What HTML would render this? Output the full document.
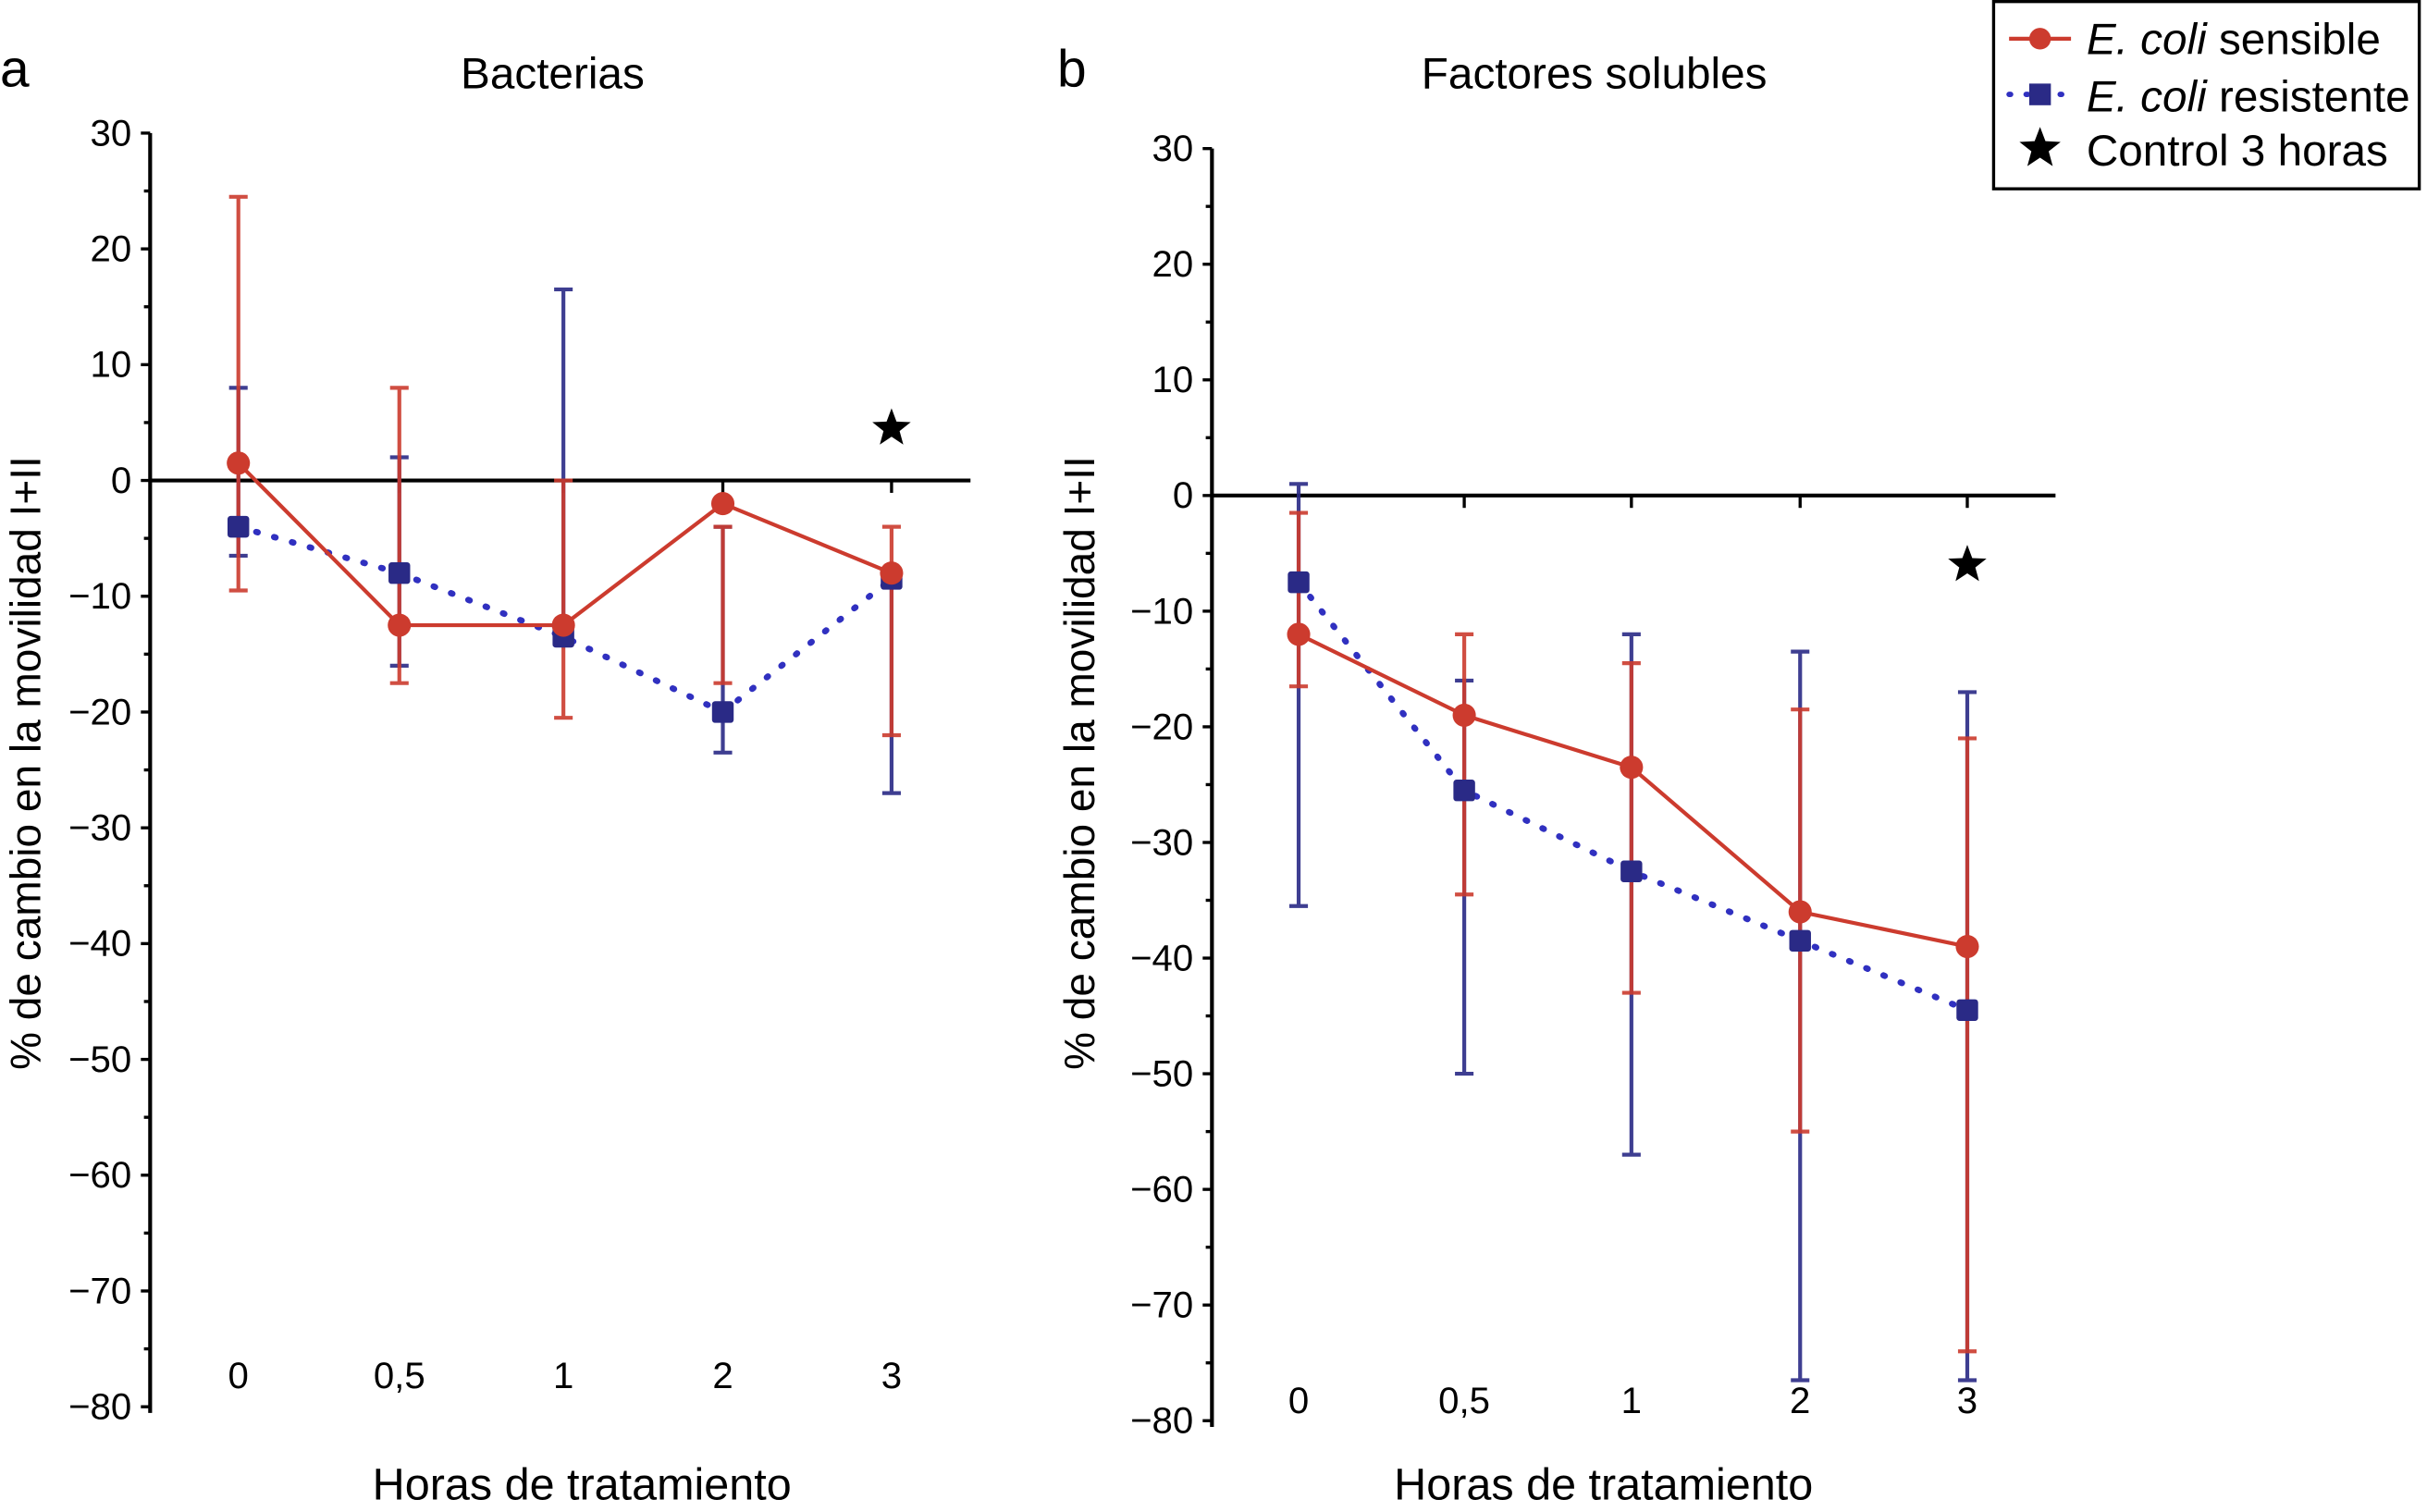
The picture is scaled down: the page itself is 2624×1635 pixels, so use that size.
<!DOCTYPE html>
<html><head><meta charset="utf-8"><style>
html,body{margin:0;padding:0;background:#fff}
svg{display:block}
text{font-family:"Liberation Sans",sans-serif;fill:#000}
</style></head><body>
<svg id="c" width="2624" height="1635" viewBox="0 0 1568 977" xmlns="http://www.w3.org/2000/svg"></svg>
<script>
const categories = ["0","0,5","1","2","3"];
const yTicks = [30,20,10,0,-10,-20,-30,-40,-50,-60,-70,-80];
const aRedVals = [1.5,-12.5,-12.5,-2,-8];
const aRedHi = [24.5,8,0,-4,-4];
const aRedLo = [-9.5,-17.5,-20.5,-17.5,-22];
const aBlueVals = [-4,-8,-13.5,-20,-8.5];
const aBlueHi = [8,2,16.5,-4,-8.5];
const aBlueLo = [-6.5,-16,-13.5,-23.5,-27];
const aStar = 4.5;
const bRedVals = [-12,-19,-23.5,-36,-39];
const bRedHi = [-1.5,-12,-14.5,-18.5,-21];
const bRedLo = [-16.5,-34.5,-43,-55,-74];
const bBlueVals = [-7.5,-25.5,-32.5,-38.5,-44.5];
const bBlueHi = [1,-16,-12,-13.5,-17];
const bBlueLo = [-35.5,-50,-57,-76.5,-76.5];
const bStar = -6;

const NS="http://www.w3.org/2000/svg", svg=document.getElementById('c');
const RED="#cc3b2e", BLUE="#2a2a86";
function mk(tag,attrs,parent,txt){const e=document.createElementNS(NS,tag);for(const k in attrs)e.setAttribute(k,attrs[k]);if(txt!==undefined)e.textContent=txt;(parent||svg).appendChild(e);return e;}
function star(g,cx,cy,r){let p=[];for(let i=0;i<10;i++){const rr=i%2?r*0.42:r;const a=-Math.PI/2+i*Math.PI/5;p.push((cx+rr*Math.cos(a)).toFixed(1)+","+(cy+rr*Math.sin(a)).toFixed(1));}return mk('polygon',{points:p.join(' '),fill:'#000'},g);}

function panel(o){
  const g=mk('g',{});
  
  
  const y=v=>o.y30+(30-v)*(o.y80-o.y30)/110;
  const x=i=>o.xs[i];
  const ax=mk('line',{x1:o.ax,y1:o.y30,x2:o.ax,y2:o.y80+4,stroke:'#000','stroke-width':2.5},g);
  
  for(let v=30;v>=-80;v-=5){mk('line',{x1:o.ax-(v%10===0?6:4),y1:y(v),x2:o.ax,y2:y(v),stroke:'#000','stroke-width':2},g);}
  yTicks.forEach(v=>{const t=mk('text',{x:o.ax-12,y:y(v)+8,'text-anchor':'end','font-size':24},g,v<0?'\u2212'+(-v):String(v));
    });
  const z=mk('line',{x1:o.ax,y1:y(0),x2:o.axEnd,y2:y(0),stroke:'#000','stroke-width':2.5},g);
  
  categories.forEach((c,i)=>{if(i>0)mk('line',{x1:x(i),y1:y(0),x2:x(i),y2:y(0)+8,stroke:'#000','stroke-width':2},g);
    const t=mk('text',{x:x(i),y:o.xly,'text-anchor':'middle','font-size':24},g,c);
    });
  function errs(hi,lo,col,nm){hi.forEach((h,i)=>{const e=mk('g',{stroke:col,'stroke-width':2.5,opacity:0.9},g);
    
    mk('line',{x1:x(i),y1:y(h),x2:x(i),y2:y(lo[i])},e);
    mk('line',{x1:x(i)-6,y1:y(h),x2:x(i)+6,y2:y(h)},e);
    mk('line',{x1:x(i)-6,y1:y(lo[i]),x2:x(i)+6,y2:y(lo[i])},e);});}
  errs(o.bh,o.bl,BLUE,'blue-error-bar');
  errs(o.rh,o.rl,RED,'red-error-bar');
  const bl=mk('polyline',{points:o.bv.map((v,i)=>x(i)+','+y(v)).join(' '),fill:'none',stroke:'#3030c0','stroke-width':4,'stroke-dasharray':'1 11','stroke-linecap':'round'},g);
  
  o.bv.forEach((v,i)=>{const r=mk('rect',{x:x(i)-7,y:y(v)-7,width:14,height:14,rx:2,fill:BLUE},g);
    });
  const rl=mk('polyline',{points:o.rv.map((v,i)=>x(i)+','+y(v)).join(' '),fill:'none',stroke:RED,'stroke-width':2.5},g);
  
  o.rv.forEach((v,i)=>{const c=mk('circle',{cx:x(i),cy:y(v),r:7.5,fill:RED},g);
    });
  const s=star(g,x(4),y(o.star),13);
  
  const t1=mk('text',{x:o.tx,y:57,'text-anchor':'middle','font-size':28.5},g,o.title);
  
  const t2=mk('text',{x:o.lx,y:56,'font-size':34},g,o.letter);
  
  const t3=mk('text',{x:o.xtx,y:969,'text-anchor':'middle','font-size':29},g,'Horas de tratamiento');
  
  const t4=mk('text',{x:0,y:0,'text-anchor':'middle','font-size':27.5,transform:`translate(${o.ytx},493) rotate(-90)`},g,'% de cambio en la movilidad I+II');
  
}
panel({name:'panel-a',ax:97,axEnd:627,y30:86,y80:909,xs:[154,258,364,467,576],xly:897,
  rv:aRedVals,rh:aRedHi,rl:aRedLo,bv:aBlueVals,bh:aBlueHi,bl:aBlueLo,star:aStar,
  title:'Bacterias',tx:357,letter:'a',lx:0,xtx:376,ytx:26});
panel({name:'panel-b',ax:783,axEnd:1328,y30:96,y80:918,xs:[839,946,1054,1163,1271],xly:913,
  rv:bRedVals,rh:bRedHi,rl:bRedLo,bv:bBlueVals,bh:bBlueHi,bl:bBlueLo,star:bStar,
  title:'Factores solubles',tx:1030,letter:'b',lx:683,xtx:1036,ytx:707});
const lg=mk('g',{});


mk('rect',{x:1288,y:1,width:275,height:121,fill:'#fff',stroke:'#000','stroke-width':2},lg);
const e1=mk('g',{},lg);


mk('line',{x1:1298,y1:25,x2:1338,y2:25,stroke:RED,'stroke-width':2.5},e1);
mk('circle',{cx:1318,cy:25,r:7,fill:RED},e1);
const l1=mk('text',{x:1348,y:35,'font-size':28.5},e1);
mk('tspan',{'font-style':'italic'},l1,'E. coli');mk('tspan',{},l1,' sensible');
const e2=mk('g',{},lg);


mk('line',{x1:1298,y1:61,x2:1338,y2:61,stroke:'#3030c0','stroke-width':3.5,'stroke-dasharray':'1 10','stroke-linecap':'round'},e2);
mk('rect',{x:1311,y:54,width:14,height:14,fill:BLUE},e2);
const l2=mk('text',{x:1348,y:72,'font-size':28.5},e2);
mk('tspan',{'font-style':'italic'},l2,'E. coli');mk('tspan',{},l2,' resistente');
const e3=mk('g',{},lg);


star(e3,1318,96,14);
mk('text',{x:1348,y:107,'font-size':28.5},e3,'Control 3 horas');
</script>
</body></html>
